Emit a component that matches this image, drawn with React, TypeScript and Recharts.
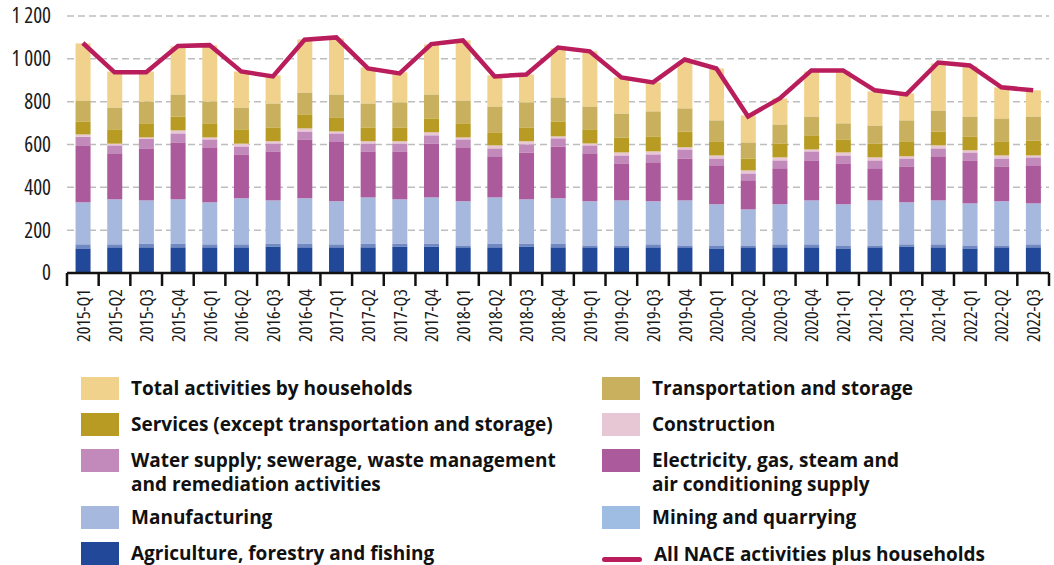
import React from 'react';
import { ComposedChart, Bar, Line, XAxis, YAxis, CartesianGrid } from 'recharts';

const quarters = [
  '2015-Q1', '2015-Q2', '2015-Q3', '2015-Q4',
  '2016-Q1', '2016-Q2', '2016-Q3', '2016-Q4',
  '2017-Q1', '2017-Q2', '2017-Q3', '2017-Q4',
  '2018-Q1', '2018-Q2', '2018-Q3', '2018-Q4',
  '2019-Q1', '2019-Q2', '2019-Q3', '2019-Q4',
  '2020-Q1', '2020-Q2', '2020-Q3', '2020-Q4',
  '2021-Q1', '2021-Q2', '2021-Q3', '2021-Q4',
  '2022-Q1', '2022-Q2', '2022-Q3',
];

const agriculture = [115, 120, 120, 120, 120, 120, 124, 120, 120, 120, 124, 124, 120, 120, 124, 120, 120, 120, 120, 120, 115, 120, 120, 120, 115, 120, 124, 120, 115, 120, 120];
const mining = [19, 14, 18, 18, 14, 14, 14, 18, 14, 18, 14, 14, 9, 18, 14, 18, 9, 9, 14, 9, 14, 9, 14, 14, 14, 9, 10, 14, 14, 9, 14];
const manufacturing = [196, 210, 201, 206, 196, 215, 201, 211, 201, 215, 206, 215, 206, 215, 206, 211, 206, 210, 201, 210, 192, 168, 187, 205, 192, 210, 196, 205, 196, 206, 191];
const electricity = [266, 215, 243, 266, 257, 205, 229, 275, 280, 215, 224, 252, 252, 192, 219, 242, 224, 173, 182, 196, 182, 136, 168, 187, 191, 150, 168, 206, 201, 163, 178];
const water = [40, 37, 44, 42, 37, 37, 37, 37, 37, 37, 37, 38, 37, 37, 38, 38, 37, 37, 37, 42, 32, 32, 37, 42, 37, 37, 37, 37, 37, 37, 37];
const construction = [11, 8, 7, 14, 9, 13, 10, 14, 9, 10, 10, 14, 9, 14, 14, 9, 9, 14, 14, 10, 14, 14, 14, 9, 14, 14, 10, 14, 10, 14, 9];
const services = [61, 67, 66, 65, 66, 67, 65, 66, 66, 65, 65, 65, 66, 61, 65, 70, 66, 70, 70, 74, 66, 56, 65, 66, 61, 65, 70, 65, 65, 66, 70];
const transport = [98, 102, 102, 103, 102, 102, 112, 102, 107, 112, 117, 112, 107, 121, 117, 112, 107, 112, 117, 108, 98, 75, 89, 88, 75, 84, 98, 98, 93, 107, 112];
const households = [266, 168, 140, 224, 262, 168, 131, 248, 261, 168, 140, 233, 280, 145, 130, 229, 257, 168, 135, 219, 242, 126, 121, 210, 242, 159, 126, 220, 234, 145, 122];
const allNace = [1074, 937, 937, 1060, 1064, 941, 918, 1089, 1100, 955, 932, 1069, 1086, 918, 927, 1053, 1035, 913, 890, 997, 955, 731, 815, 946, 946, 853, 834, 983, 969, 867, 853];

const yTicks = [0, 200, 400, 600, 800, 1000, 1200];

// stack order, bottom to top
const series = [
  { key: 'agri', name: 'Agriculture, forestry and fishing', values: agriculture, fill: '#22489a' },
  { key: 'mining', name: 'Mining and quarrying', values: mining, fill: '#7189c3' },
  { key: 'manuf', name: 'Manufacturing', values: manufacturing, fill: '#a6b8de' },
  { key: 'elec', name: 'Electricity, gas, steam and air conditioning supply', values: electricity, fill: '#ab5a9c' },
  { key: 'water', name: 'Water supply; sewerage, waste management and remediation activities', values: water, fill: '#c28abb' },
  { key: 'constr', name: 'Construction', values: construction, fill: '#e8c7d4' },
  { key: 'serv', name: 'Services (except transportation and storage)', values: services, fill: '#b89b22' },
  { key: 'trans', name: 'Transportation and storage', values: transport, fill: '#c8b05e' },
  { key: 'hh', name: 'Total activities by households', values: households, fill: '#f0d28c' },
];

const data = quarters.map((q, i) => {
  const row: Record<string, any> = { q, total: allNace[i] };
  series.forEach(s => { row[s.key] = s.values[i]; });
  return row;
});

const FONT = '"Open Sans", "Noto Sans", sans-serif';
const LINE_COLOR = '#b91d5b';

function fmtThousands(v: number) {
  return v >= 1000 ? `${Math.floor(v / 1000)} ${String(v % 1000).padStart(3, '0')}` : String(v);
}

function QuarterTick(props: any) {
  const { x, y, payload, index, visibleTicksCount } = props;
  const half = payload?.offset ?? 15.85;
  const last = index === (visibleTicksCount ?? quarters.length) - 1;
  return (
    <g>
      <line x1={x - half} x2={x - half} y1={y} y2={y + 13} stroke="#111" strokeWidth={2.5} />
      {last && <line x1={x + half} x2={x + half} y1={y} y2={y + 13} stroke="#111" strokeWidth={2.5} />}
      <text
        x={0}
        y={0}
        transform={`translate(${x},${y + 16}) rotate(-90)`}
        textAnchor="end"
        dominantBaseline="central"
        fontSize={18}
        fontFamily={FONT}
        fill="#1a1a1a"
        style={{ fontStretch: 'condensed' }}
      >
        {payload.value}
      </text>
    </g>
  );
}

const legendLeft = [
  { key: 'hh', top: 377 },
  { key: 'serv', top: 413 },
  { key: 'water', top: 449, lines: ['Water supply; sewerage, waste management', 'and remediation activities'] },
  { key: 'manuf', top: 506 },
  { key: 'agri', top: 542 },
];
const legendRight = [
  { key: 'trans', top: 377 },
  { key: 'constr', top: 413 },
  { key: 'elec', top: 449, lines: ['Electricity, gas, steam and', 'air conditioning supply'] },
  { key: 'mining', top: 506, swatch: '#9fbde3' },
];

function LegendItem({ item, left }: { item: any; left: number }) {
  const s = series.find(x => x.key === item.key)!;
  const lines: string[] = item.lines ?? [s.name];
  return (
    <div style={{ position: 'absolute', left, top: item.top, display: 'flex' }}>
      <div style={{ width: 38, height: 23, background: item.swatch ?? s.fill, flex: 'none' }} />
      <div style={{ marginLeft: 12, marginTop: -1, lineHeight: '24px', whiteSpace: 'nowrap' }}>
        {lines.map(l => <div key={l}>{l}</div>)}
      </div>
    </div>
  );
}

export default function App() {
  return (
    <div style={{ position: 'absolute', left: 0, top: 0, width: 1054, height: 565, background: '#fff', fontFamily: FONT }}>
      <ComposedChart
        width={1054}
        height={365}
        data={data}
        margin={{ top: 16, right: 5, bottom: 12, left: 0 }}
        barCategoryGap="27%"
      >
        <CartesianGrid vertical={false} stroke="#bdbdbd" strokeDasharray="7 4" strokeWidth={1.5} />
        <XAxis
          dataKey="q"
          interval={0}
          height={80}
          tickLine={false}
          tickSize={0}
          tickMargin={0}
          axisLine={{ stroke: '#111', strokeWidth: 2.5 }}
          tick={<QuarterTick />}
        />
        <YAxis
          domain={[0, 1200]}
          ticks={yTicks}
          width={67}
          axisLine={false}
          tickLine={false}
          tickMargin={10}
          tickFormatter={fmtThousands}
          tick={{ fontSize: 21, fill: '#1a1a1a', fontFamily: FONT, style: { fontStretch: 'semi-condensed' } }}
        />
        {series.map(s => (
          <Bar key={s.key} dataKey={s.key} name={s.name} stackId="a" fill={s.fill} isAnimationActive={false} />
        ))}
        <Line
          dataKey="total"
          name="All NACE activities plus households"
          stroke={LINE_COLOR}
          strokeWidth={4.5}
          dot={false}
          activeDot={false}
          type="linear"
          isAnimationActive={false}
        />
      </ComposedChart>
      <div style={{ fontSize: 19, fontWeight: 700, color: '#111' }}>
        {legendLeft.map(it => <LegendItem key={it.key} item={it} left={81} />)}
        {legendRight.map(it => <LegendItem key={it.key} item={it} left={602} />)}
        <div style={{ position: 'absolute', left: 602, top: 542, display: 'flex', alignItems: 'center' }}>
          <div style={{ width: 40, height: 5, borderRadius: 3, background: LINE_COLOR, marginTop: 11 }} />
          <div style={{ marginLeft: 12, lineHeight: '24px' }}>All NACE activities plus households</div>
        </div>
      </div>
    </div>
  );
}
